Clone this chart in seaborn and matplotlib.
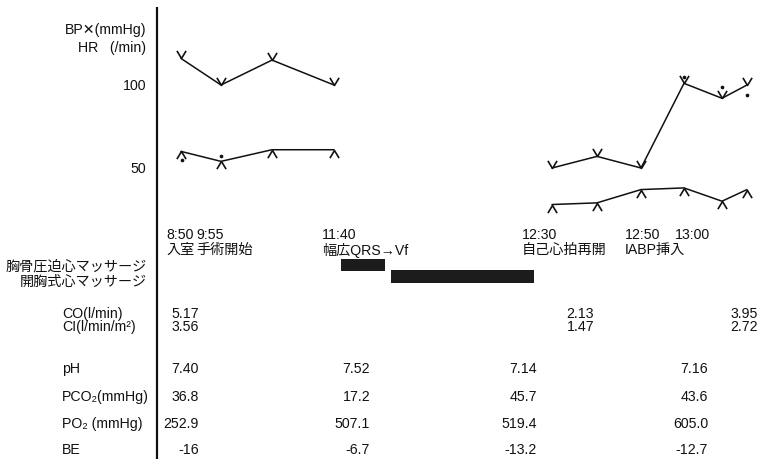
import numpy as np
import pandas as pd
import matplotlib
matplotlib.use("Agg")
import matplotlib.pyplot as plt
import seaborn as sns
from matplotlib.path import Path

# ---------------- data ----------------
# measurement slots along the (non-linear) time axis of the chart
time_slot = [181, 221, 272, 334, 552, 597, 641, 684, 722, 747]
segment = [0, 0, 0, 0, 1, 1, 1, 1, 1, 1]
bp_sys = [116, 100, 115, 100, 50, 57, 50, 101, 92, 100]
bp_dia = [60, 54, 61, 61, 28, 29, 37, 38, 30, 37]
hr_slot = [182, 221, 684, 722, 747]
hr = [55, 57, 105, 99, 94]

bp_ticks = [100, 50]

event_slot = [166, 196, 322, 522, 625, 675]
event_time = ["8:50", "9:55", "11:40", "12:30", "12:50", "13:00"]
event_name = ["入室", "手術開始", "幅広QRS→Vf", "自己心拍再開", "IABP挿入", ""]

massage_labels = ["胸骨圧迫心マッサージ", "開胸式心マッサージ"]
massage_start = [341, 391]
massage_end = [385, 534]

co_labels = ["CO(l/min)", "CI(l/min/m²)"]
co_slot = [199, 594, 758]
co_values = ["5.17", "2.13", "3.95"]
ci_values = ["3.56", "1.47", "2.72"]

gas_labels = ["pH", "PCO₂(mmHg)", "PO₂ (mmHg)", "BE"]
gas_slot = [199, 370, 537, 708]
ph = ["7.40", "7.52", "7.14", "7.16"]
pco2 = ["36.8", "17.2", "45.7", "43.6"]
po2 = ["252.9", "507.1", "519.4", "605.0"]
be = ["-16", "-6.7", "-13.2", "-12.7"]

# ---------------- style ----------------
sns.set_theme(style="white")
plt.rcParams["font.family"] = ["Liberation Sans", "Noto Sans CJK JP", "DejaVu Sans"]
FS = 10.2
INK = "#111111"

W, H = 761, 460
fig = plt.figure(figsize=(W / 100, H / 100), dpi=100)
fig.patch.set_facecolor("white")

# pixel-layout axes
ax = fig.add_axes([0, 0, 1, 1])
ax.set_xlim(0, W)
ax.set_ylim(H, 0)
ax.axis("off")

# blood-pressure axes (mmHg), same horizontal scale
bp = fig.add_axes([0, 0, 1, 1])
bp.patch.set_alpha(0)

df = pd.DataFrame({"t": time_slot, "seg": segment, "sys": bp_sys, "dia": bp_dia})

v_mark = Path([(-0.6, 1.0), (0, 0), (0.6, 1.0)], [Path.MOVETO, Path.LINETO, Path.LINETO])
a_mark = Path([(-0.6, -1.0), (0, 0), (0.6, -1.0)], [Path.MOVETO, Path.LINETO, Path.LINETO])

common = dict(units="seg", estimator=None, color=INK, lw=1.1, markersize=11,
              markerfacecolor="none", markeredgecolor=INK, markeredgewidth=1.2,
              legend=False, ax=bp)
sns.lineplot(data=df, x="t", y="sys", marker=v_mark, **common)
sns.lineplot(data=df, x="t", y="dia", marker=a_mark, **common)
sns.scatterplot(x=hr_slot, y=hr, s=7, color=INK, linewidth=0, ax=bp)

# y-scale: 100 -> px 86, 50 -> px 169
px_per = (169 - 86) / 50.0
zero_px = 86 + 100 * px_per
bp.set_xlim(0, W)
bp.set_ylim((zero_px - H) / px_per, zero_px / px_per)
bp.axis("off")

for v in bp_ticks:
    bp.text(146, v, str(v), ha="right", va="center", fontsize=FS, color=INK)

ax.text(146, 30, "BP✕(mmHg)", ha="right", va="center", fontsize=FS, color=INK)
ax.text(146, 48, "HR   (/min)", ha="right", va="center", fontsize=FS, color=INK)

# vertical axis line
ax.plot([157, 157], [8, H], color=INK, lw=1.6, solid_capstyle="butt")

# events
for xs, tt, nm in zip(event_slot, event_time, event_name):
    ax.text(xs, 235, tt, ha="left", va="center", fontsize=FS, color=INK)
    if nm:
        ax.text(xs, 250, nm, ha="left", va="center", fontsize=FS, color=INK)

# massage bars
bar_rows = [(260, 12), (271, 13)]
for lab, s, e, (y0, hgt), ly in zip(massage_labels, massage_start, massage_end, bar_rows, [267, 282]):
    ax.text(147, ly, lab, ha="right", va="center", fontsize=FS, color=INK)
    ax.broken_barh([(s, e - s)], (y0, hgt), facecolor="#1c1c1c", edgecolor="none")

# CO / CI
ax.text(62, 314, co_labels[0], ha="left", va="center", fontsize=FS, color=INK)
ax.text(62, 327, co_labels[1], ha="left", va="center", fontsize=FS, color=INK)
for xs, c1, c2 in zip(co_slot, co_values, ci_values):
    ax.text(xs, 314, c1, ha="right", va="center", fontsize=FS, color=INK)
    ax.text(xs, 327, c2, ha="right", va="center", fontsize=FS, color=INK)

# blood gas rows
row_y = [369, 397, 424, 450]
for lab, yy, vals in zip(gas_labels, row_y, [ph, pco2, po2, be]):
    ax.text(62, yy, lab, ha="left", va="center", fontsize=FS, color=INK)
    for xs, val in zip(gas_slot, vals):
        ax.text(xs, yy, val, ha="right", va="center", fontsize=FS, color=INK)

fig.savefig("out.png", dpi=100, facecolor="white")
